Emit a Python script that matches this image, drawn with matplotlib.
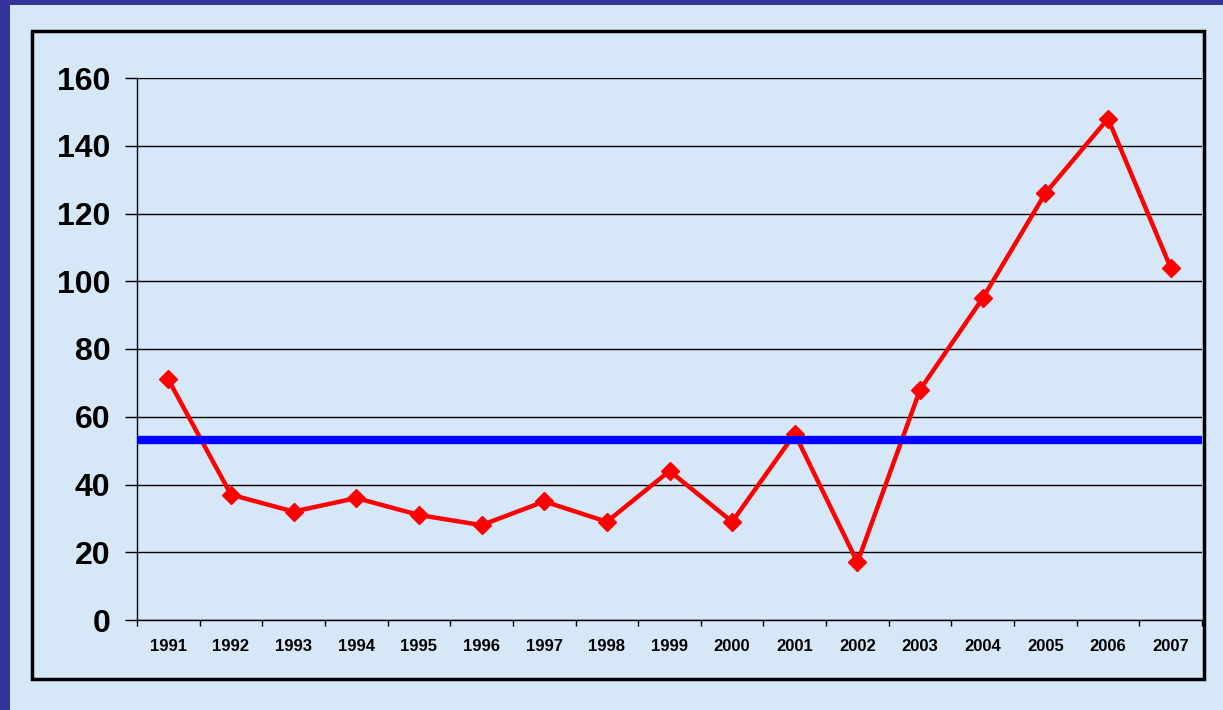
import matplotlib
matplotlib.use('Agg')
import matplotlib.pyplot as plt
from matplotlib.patches import Rectangle

# data
years = ['1991', '1992', '1993', '1994', '1995', '1996', '1997', '1998', '1999',
         '2000', '2001', '2002', '2003', '2004', '2005', '2006', '2007']
values = [71, 37, 32, 36, 31, 28, 35, 29, 44, 29, 55, 17, 68, 95, 126, 148, 104]
level = 53
yticks = [0, 20, 40, 60, 80, 100, 120, 140, 160]

plt.rcParams['font.family'] = ['Liberation Sans', 'DejaVu Sans']
plt.rcParams['font.weight'] = 'bold'

W, H = 1223, 710
fig = plt.figure(figsize=(W / 100, H / 100), dpi=100, facecolor='#333399')

# light panel and the black frame (behind the axes)
fig.patches.append(Rectangle((10 / W, 0), 1 - 10 / W, 1 - 5 / H, transform=fig.transFigure,
                             facecolor='#d6e7f8', edgecolor='none', zorder=-3))
fig.patches.append(Rectangle((32 / W, 1 - 679 / H), (1204 - 32) / W, (679 - 31) / H,
                             transform=fig.transFigure, facecolor='none',
                             edgecolor='black', linewidth=2.5, zorder=-2))

ax = fig.add_axes([137 / W, 1 - 620 / H, (1202 - 137) / W, (620 - 78) / H])
ax.patch.set_alpha(0)

x = list(range(len(years)))
ax.plot(x, values, color='#ff0000', linewidth=3.2, marker='D', markersize=9.5,
        markeredgecolor='#ff0000', zorder=3)
ax.axhline(level, color='#0000ff', linewidth=6, zorder=4)

ax.set_xlim(-0.5, len(years) - 0.5)
ax.set_ylim(0, 160)
ax.set_yticks(yticks)
ax.set_yticklabels([str(v) for v in yticks], fontsize=23, fontweight='bold')
ax.set_xticks(x)
ax.set_xticklabels(years, fontsize=12, fontweight='bold')
ax.set_xticks([i - 0.5 for i in range(len(years) + 1)], minor=True)

ax.tick_params(axis='x', which='major', length=0, pad=14)
ax.tick_params(axis='x', which='minor', length=4, width=1, direction='out')
ax.tick_params(axis='y', length=9, width=1, pad=10)

ax.grid(axis='y', color='black', linewidth=1)
ax.set_axisbelow(True)
for s in ['top', 'right']:
    ax.spines[s].set_visible(False)
ax.spines['left'].set_linewidth(1)
ax.spines['bottom'].set_linewidth(1)

fig.savefig('out.png', dpi=100, facecolor=fig.get_facecolor())
